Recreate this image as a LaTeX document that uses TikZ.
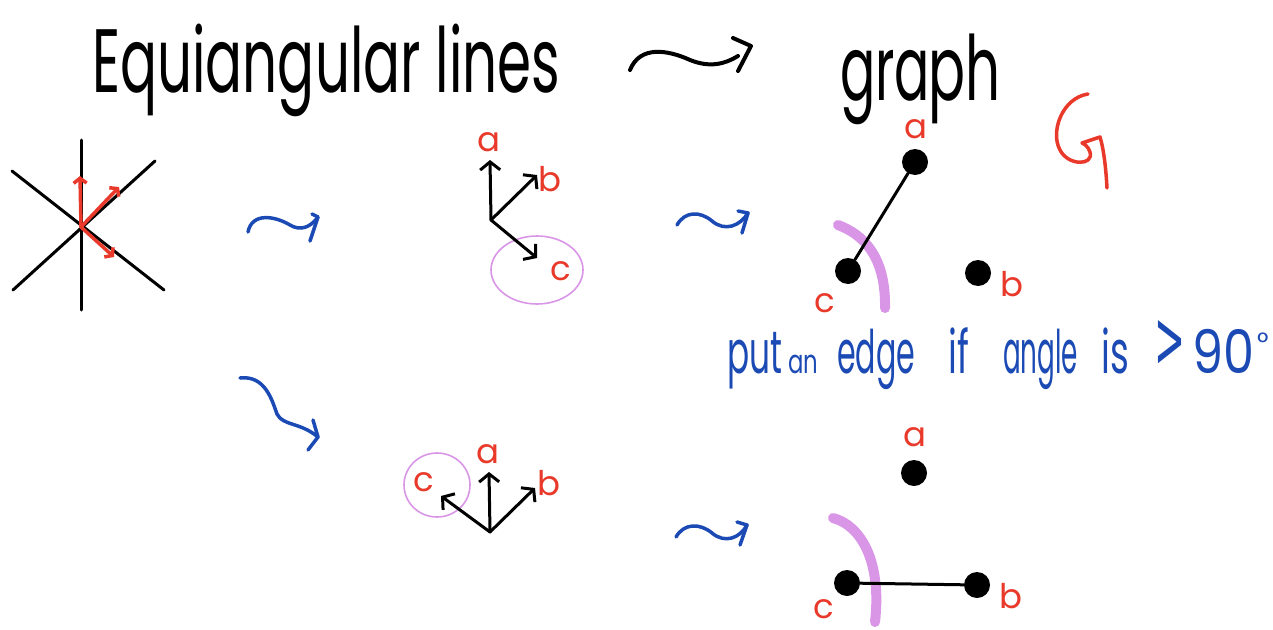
\documentclass[tikz,border=0pt]{standalone}
\usepackage{fontspec}
\setmainfont{Poppins}
\newfontfamily\symfont{DejaVu Sans}
\usetikzlibrary{arrows.meta}
\definecolor{hred}{HTML}{E8392A}
\definecolor{hblue}{HTML}{1B4AB4}
\definecolor{hpurple}{HTML}{DA96E6}
\newcommand{\fitw}[2]{\resizebox{#1}{\height}{#2}}
\begin{document}
\begin{tikzpicture}[x=1pt,y=-1pt,
  ink/.style={line width=3pt, line cap=round, line join=round},
  vec/.style={ink, -{Straight Barb[length=8pt,width=20pt]}},
  rvec/.style={line width=3.5pt, hred, line cap=round, line join=round, -{Straight Barb[length=5pt,width=13pt]}},
  dot/.style={circle, fill=black, inner sep=0pt, minimum size=26pt},
  lbl/.style={text=hred, font=\fontsize{34}{34}\selectfont, inner sep=0pt},
  squig/.style={line width=3.5pt, hblue, line cap=round, line join=round},
  hilite/.style={line width=10pt, hpurple, line cap=round},
  loop/.style={line width=1.6pt, hpurple},
  btxt/.style={text=hblue, inner sep=0pt, anchor=base west, font=\fontsize{60}{60}\selectfont},
  ttl/.style={inner sep=0pt, anchor=base west, font=\fontsize{90}{90}\selectfont}]
\useasboundingbox (0,0) rectangle (1273,629);

% title
\node[ttl] (title) at (92,92) {\fitw{468pt}{Equiangular lines}};
\node[ttl] (graph1) at (840,100) {\fitw{90pt}{gra}};
\node[ttl] (graph2) at (928,100) {\fitw{72pt}{ph}};
% black squiggle arrow
\coordinate (t0) at (630,70);
\coordinate (t1) at (738,56);
\coordinate (th1) at (733,38);
\coordinate (th2) at (751,46);
\coordinate (th3) at (738,71);
\draw[line width=4pt, line cap=round] (t0) .. controls (640,45) and (668,50) .. (690,60) .. controls (710,68) and (725,64) .. (t1);
\draw[line width=4pt, line cap=round, line join=round] (th1) -- (th2) -- (th3);

% star of lines
\coordinate (o1) at (81,227);
\coordinate (v1t) at (81,140);
\coordinate (v1b) at (81,310);
\coordinate (d1a) at (12,171);
\coordinate (d1b) at (164,290);
\coordinate (d2a) at (13,290);
\coordinate (d2b) at (155,161);
\draw[ink] (v1t) -- (v1b);
\draw[ink] (d1a) -- (d1b);
\draw[ink] (d2a) -- (d2b);
\coordinate (r1) at (80,176);
\coordinate (r2) at (119,187);
\coordinate (r3) at (114,257);
\draw[rvec] (o1) -- (r1);
\draw[rvec] (o1) -- (r2);
\draw[rvec] (o1) -- (r3);

% blue squiggles
\coordinate (sa0) at (248,232);
\coordinate (sa1) at (318,217);
\draw[squig] (sa0) .. controls (252,212) and (275,216) .. (290,225) .. controls (300,231) and (310,228) .. (sa1);
\draw[squig] (312,214) -- (sa1) -- (310,241);

\coordinate (sb0) at (240,378);
\coordinate (sb1) at (318,437);
\draw[squig] (sb0) .. controls (265,375) and (272,400) .. (277,414) .. controls (283,426) and (300,422) .. (sb1);
\draw[squig] (313,420) -- (sb1) -- (308,450);

\coordinate (sc0) at (677,225);
\coordinate (sc1) at (748,213);
\draw[squig] (sc0) .. controls (685,211) and (700,211) .. (712,221) .. controls (725,232) and (740,226) .. (sc1);
\draw[squig] (738,211) -- (sc1) -- (742,233);

\coordinate (sd0) at (676,537);
\coordinate (sd1) at (747,525);
\draw[squig] (sd0) .. controls (684,523) and (700,523) .. (712,533) .. controls (725,544) and (740,538) .. (sd1);
\draw[squig] (737,522) -- (sd1) -- (740,545);

% vector diagram 1
\draw[loop] (537,270) ellipse [x radius=46, y radius=34];
\coordinate (o2) at (491,220);
\coordinate (a2) at (490,160);
\coordinate (b2) at (537,175);
\coordinate (c2) at (537,258);
\draw[vec] (o2) -- (a2);
\draw[vec] (o2) -- (b2);
\draw[vec] (o2) -- (c2);
\node[lbl] (la2) at (489,142) {a};
\node[lbl] (lb2) at (550,179) {b};
\node[lbl] (lc2) at (561,271) {c};

% vector diagram 2
\draw[loop] (437,485) ellipse [x radius=33, y radius=32];
\coordinate (o3) at (490,532);
\coordinate (a3) at (489,472);
\coordinate (b3) at (535,488);
\coordinate (c3) at (441,496);
\draw[vec] (o3) -- (a3);
\draw[vec] (o3) -- (b3);
\draw[vec] (o3) -- (c3);
\node[lbl] (la3) at (488,454) {a};
\node[lbl] (lb3) at (549,483) {b};
\node[lbl] (lc3) at (424,482) {c};

% red rotation mark
\draw[line width=3.5pt, hred, line cap=round, line join=round]
  (1088,94) .. controls (1062,98) and (1050,132) .. (1060,150)
  .. controls (1068,166) and (1094,166) .. (1090,152)
  .. controls (1088,146) and (1084,144) .. (1082,143)
  -- (1100,137) .. controls (1104,150) and (1106,170) .. (1107,188);

% graph 1
\draw[hilite] (838,225) .. controls (862,234) and (886,255) .. (885,308);
\node[dot] (ga) at (915,162) {};
\node[dot] (gc) at (848,271) {};
\node[dot] (gb) at (978,273) {};
\draw[ink] (gc) -- (ga);
\node[lbl] (lga) at (916,129) {a};
\node[lbl] (lgb) at (1012,284) {b};
\node[lbl] (lgc) at (825,303) {c};

% text
\node[btxt] (w1) at (727,373) {\fitw{55pt}{put}};
\node[btxt, font=\fontsize{33}{33}\selectfont] (w2) at (788,373) {\fitw{30pt}{an}};
\node[btxt] (w3) at (837,373) {\fitw{78pt}{edge}};
\node[btxt] (w4) at (948,373) {\scalebox{0.6}[1]{if}};
\node[btxt] (w5) at (1003,373) {\fitw{75pt}{angle}};
\node[btxt] (w6) at (1101,373) {\scalebox{0.6}[1]{is}};
\node[btxt, font=\fontsize{30}{30}\selectfont] (w7) at (1154,367) {\resizebox{31pt}{47pt}{\symfont >}};
\node[btxt] (w8) at (1192,373) {\fitw{62pt}{90}};
\node[btxt, font=\fontsize{28}{28}\selectfont] (w9) at (1257,352) {°};

% graph 2
\draw[hilite] (833,518) .. controls (860,525) and (882,560) .. (875,622);
\node[dot] (ha) at (914,473) {};
\node[dot] (hc) at (847,583) {};
\node[dot] (hb) at (977,585) {};
\draw[ink] (hc) -- (hb);
\node[lbl] (lha) at (915,437) {a};
\node[lbl] (lhb) at (1011,596) {b};
\node[lbl] (lhc) at (824,609) {c};
\end{tikzpicture}
\end{document}
